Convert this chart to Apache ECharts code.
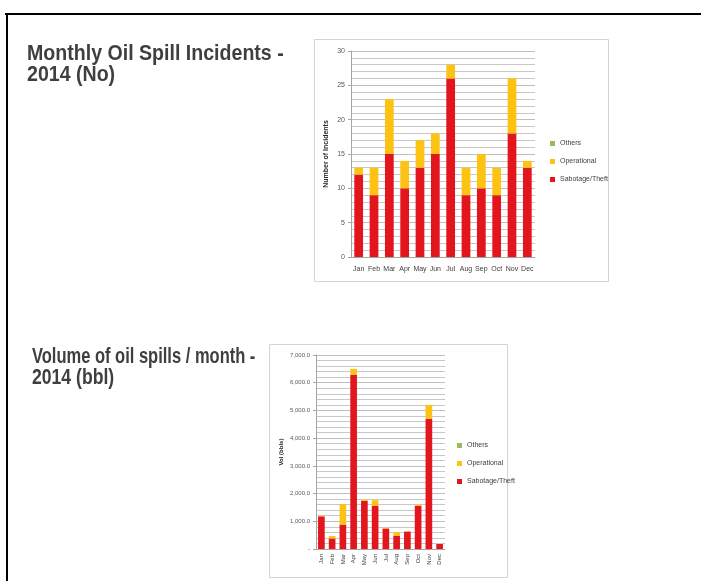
<!DOCTYPE html>
<html>
<head>
<meta charset="utf-8">
<script src="https://cdn.jsdelivr.net/npm/echarts@6/dist/echarts.min.js"></script>
<style>
html,body{margin:0;padding:0;background:#fff;}
#main{width:701px;height:581px;}
</style>
</head>
<body>
<div id="main"></div>
<script>
// ---- data ----
var months = ['Jan','Feb','Mar','Apr','May','Jun','Jul','Aug','Sep','Oct','Nov','Dec'];
var legendNames = ['Others','Operational','Sabotage/Theft'];

// Chart 1: number of incidents
var incSabotage = [12, 9, 15, 10, 13, 15, 26, 9, 10, 9, 18, 13];
var incOperational = [1, 4, 8, 4, 4, 3, 2, 4, 5, 4, 8, 1];
var incOthers = [0, 0, 0, 0, 0, 0, 0, 0, 0, 0, 0, 0];

// Chart 2: volume (bbl)
var volSabotage = [1180, 380, 880, 6280, 1740, 1560, 740, 470, 630, 1560, 4700, 180];
var volOperational = [20, 90, 740, 220, 40, 200, 20, 130, 10, 40, 500, 0];
var volOthers = [0, 0, 0, 0, 0, 0, 0, 0, 0, 0, 0, 0];

var title1Lines = ['Monthly Oil Spill Incidents -', '2014 (No)'];
var title2Lines = ['Volume of oil spills / month -', '2014 (bbl)'];
var yTitles = ['Number of Incidents', 'Vol (bbls)'];

var cRed = '#e3161d', cYellow = '#fcc214', cGreen = '#9bbb59';
var titleFont = 'bold 22px "Liberation Sans",Arial,sans-serif';
var smallFont = '"Liberation Sans",Arial,sans-serif';

function fmtVol(v){
  if (v === 0) return '-';
  return v.toLocaleString('en-US') + '.0';
}

function titleText(line, x, y, sx){
  return {type: 'text', x: x, y: y, scaleX: sx, style: {text: line, font: titleFont, fill: '#3f3f3f'}};
}

var chart = echarts.init(document.getElementById('main'), null, {renderer:'canvas'});
var option = {
  animation: false,
  backgroundColor: '#ffffff',
  graphic: [
    {type: 'line', shape: {x1: 5, y1: 14, x2: 701, y2: 14}, style: {stroke: '#000', lineWidth: 2}},
    {type: 'line', shape: {x1: 7, y1: 13, x2: 7, y2: 581}, style: {stroke: '#000', lineWidth: 2}},
    {type: 'rect', shape: {x: 314.5, y: 39.5, width: 294, height: 242}, style: {fill: 'none', stroke: '#d4d4d4', lineWidth: 1}},
    {type: 'rect', shape: {x: 269.5, y: 344.5, width: 238, height: 233}, style: {fill: 'none', stroke: '#d4d4d4', lineWidth: 1}},
    titleText(title1Lines[0], 27, 43, 0.89),
    titleText(title1Lines[1], 27, 64, 0.89),
    titleText(title2Lines[0], 32, 346, 0.75),
    titleText(title2Lines[1], 32, 367, 0.8)
  ],
  legend: [
    {orient: 'vertical', left: 545, top: 135, itemWidth: 5, itemHeight: 5, itemGap: 11,
     data: legendNames, icon: 'rect', textStyle: {fontSize: 7, color: '#404040', fontFamily: smallFont}, selectedMode: false},
    {orient: 'vertical', left: 452, top: 437, itemWidth: 5, itemHeight: 5, itemGap: 11,
     data: legendNames, icon: 'rect', textStyle: {fontSize: 7, color: '#404040', fontFamily: smallFont}, selectedMode: false}
  ],
  grid: [
    {left: 351, top: 51, width: 184, height: 206},
    {left: 316, top: 355, width: 129, height: 194}
  ],
  xAxis: [
    {type: 'category', gridIndex: 0, data: months,
     axisLine: {lineStyle: {color: '#a6a6a6'}}, axisTick: {show: false},
     axisLabel: {fontSize: 7, color: '#404040', margin: 9, interval: 0, fontFamily: smallFont}},
    {type: 'category', gridIndex: 1, data: months,
     axisLine: {lineStyle: {color: '#a6a6a6'}}, axisTick: {show: false},
     axisLabel: {fontSize: 6, color: '#404040', margin: 5, interval: 0, rotate: 90, fontFamily: smallFont}}
  ],
  yAxis: [
    {type: 'value', gridIndex: 0, min: 0, max: 30, interval: 5,
     name: yTitles[0], nameLocation: 'middle', nameGap: 21, nameRotate: 90,
     nameTextStyle: {fontSize: 7, fontWeight: 'bold', color: '#262626', fontFamily: smallFont},
     axisLine: {show: true, lineStyle: {color: '#a6a6a6'}},
     axisTick: {show: true, length: 3, lineStyle: {color: '#a6a6a6'}},
     axisLabel: {fontSize: 7, color: '#595959', margin: 6, fontFamily: smallFont},
     splitLine: {lineStyle: {color: '#bfbfbf', width: 1}},
     minorTick: {show: false, splitNumber: 5},
     minorSplitLine: {show: true, lineStyle: {color: '#c8c8c8', width: 1}}},
    {type: 'value', gridIndex: 1, min: 0, max: 7000, interval: 1000,
     name: yTitles[1], nameLocation: 'middle', nameGap: 32, nameRotate: 90,
     nameTextStyle: {fontSize: 6, fontWeight: 'bold', color: '#262626', fontFamily: smallFont},
     axisLine: {show: true, lineStyle: {color: '#a6a6a6'}},
     axisTick: {show: true, length: 3, lineStyle: {color: '#a6a6a6'}},
     axisLabel: {fontSize: 6, color: '#595959', margin: 6, fontFamily: smallFont, formatter: fmtVol},
     splitLine: {lineStyle: {color: '#bfbfbf', width: 1}},
     minorTick: {show: false, splitNumber: 5},
     minorSplitLine: {show: true, lineStyle: {color: '#c8c8c8', width: 1}}}
  ],
  series: [
    {name: 'Sabotage/Theft', type: 'bar', xAxisIndex: 0, yAxisIndex: 0, stack: 'a', barWidth: '57%', itemStyle: {color: cRed}, data: incSabotage},
    {name: 'Operational', type: 'bar', xAxisIndex: 0, yAxisIndex: 0, stack: 'a', itemStyle: {color: cYellow}, data: incOperational},
    {name: 'Others', type: 'bar', xAxisIndex: 0, yAxisIndex: 0, stack: 'a', itemStyle: {color: cGreen}, data: incOthers},
    {name: 'Sabotage/Theft', type: 'bar', xAxisIndex: 1, yAxisIndex: 1, stack: 'b', barWidth: '62%', itemStyle: {color: cRed}, data: volSabotage},
    {name: 'Operational', type: 'bar', xAxisIndex: 1, yAxisIndex: 1, stack: 'b', itemStyle: {color: cYellow}, data: volOperational},
    {name: 'Others', type: 'bar', xAxisIndex: 1, yAxisIndex: 1, stack: 'b', itemStyle: {color: cGreen}, data: volOthers}
  ]
};
chart.setOption(option);
</script>
</body>
</html>
